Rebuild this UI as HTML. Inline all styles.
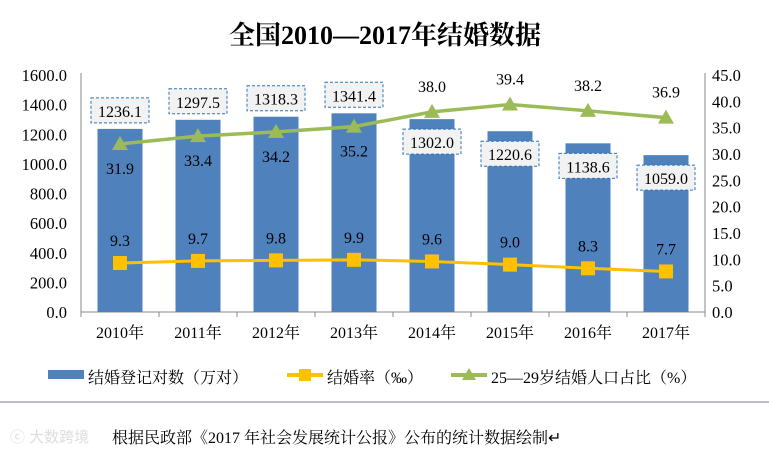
<!DOCTYPE html>
<html><head><meta charset="utf-8">
<style>
body{margin:0;background:#fff;}
svg{display:block;font-family:"Liberation Serif","Noto Serif CJK SC",serif;}
</style></head>
<body>
<svg id="chart" width="769" height="457" viewBox="0 0 769 457" xmlns="http://www.w3.org/2000/svg">
<text x="385" y="44" text-anchor="middle" font-size="26" font-weight="bold" fill="#000">全国2010—2017年结婚数据</text>
<g id="plot"></g>
<g>
<rect x="48" y="370" width="36" height="9" fill="#4f81bd"/>
<text x="88" y="383" font-size="16">结婚登记对数（万对）</text>
<line x1="287" y1="375" x2="323" y2="375" stroke="#ffc000" stroke-width="4"/>
<rect x="299" y="369" width="12" height="12" fill="#ffc000"/>
<text x="327" y="383" font-size="16">结婚率（‰）</text>
<line x1="451" y1="375" x2="487" y2="375" stroke="#9bbb59" stroke-width="4"/>
<polygon points="469,368 476,380 462,380" fill="#9bbb59"/>
<text x="491" y="383" font-size="16">25—29岁结婚人口占比（%）</text>
</g>
<line x1="0" y1="402" x2="769" y2="402" stroke="#aab" stroke-width="1.5"/>
<text x="10" y="442" font-size="15" fill="#ddd" font-family="Liberation Sans,Noto Sans CJK SC,sans-serif">ⓒ 大数跨境</text>
<text x="112" y="443" font-size="16" fill="#000">根据民政部《2017 年社会发展统计公报》公布的统计数据绘制↵</text>
</svg>
<script>
const years=["2010年","2011年","2012年","2013年","2014年","2015年","2016年","2017年"];
const couples=[1236.1,1297.5,1318.3,1341.4,1302.0,1220.6,1138.6,1059.0];
const rate=[9.3,9.7,9.8,9.9,9.6,9.0,8.3,7.7];
const share=[31.9,33.4,34.2,35.2,38.0,39.4,38.2,36.9];
const leftTicks=[0,200,400,600,800,1000,1200,1400,1600];
const rightTicks=[0,5,10,15,20,25,30,35,40,45];

const NS="http://www.w3.org/2000/svg";
const g=document.getElementById('plot');
const X0=81,X1=705,Y0=312,Y1=75;
const step=(X1-X0)/years.length;
const xc=i=>X0+step*(i+0.5);
const yL=v=>Y0-(v/1600)*(Y0-Y1);
const yR=v=>Y0-(v/45)*(Y0-Y1);
function mk(tag,attrs,text){const e=document.createElementNS(NS,tag);for(const k in attrs)e.setAttribute(k,attrs[k]);if(text!==undefined)e.textContent=text;g.appendChild(e);return e;}

leftTicks.forEach(v=>{const t=mk('text',{x:67,y:yL(v)+6,'text-anchor':'end','font-size':16.5},v.toFixed(1));

});
rightTicks.forEach(v=>{const t=mk('text',{x:712,y:yR(v)+6,'font-size':16.5},v.toFixed(1));

});
mk('line',{x1:X0,y1:Y1-2,x2:X0,y2:Y0,stroke:'#888'});
mk('line',{x1:X1,y1:Y1-2,x2:X1,y2:Y0,stroke:'#888'});
mk('line',{x1:X0,y1:Y0,x2:X1,y2:Y0,stroke:'#888'});
for(let i=0;i<=years.length;i++)mk('line',{x1:X0+step*i,y1:Y0,x2:X0+step*i,y2:Y0+5,stroke:'#888'});

couples.forEach((v,i)=>{
 const b=mk('rect',{x:xc(i)-22.5,y:yL(v),width:45,height:Y0-yL(v),fill:'#4f81bd'});
 
 
});
years.forEach((y,i)=>{const t=mk('text',{x:xc(i),y:Y0+26,'text-anchor':'middle','font-size':16},y);

});

mk('polyline',{points:rate.map((v,i)=>xc(i)+','+yR(v)).join(' '),fill:'none',stroke:'#ffc000','stroke-width':3});
mk('polyline',{points:share.map((v,i)=>xc(i)+','+yR(v)).join(' '),fill:'none',stroke:'#9bbb59','stroke-width':3.5});
rate.forEach((v,i)=>{const y=yR(v);
 const m=mk('rect',{x:xc(i)-7,y:y-7,width:14,height:14,fill:'#ffc000'});
 
 
 mk('text',{x:xc(i),y:y-17,'text-anchor':'middle','font-size':16},v.toFixed(1));
});
share.forEach((v,i)=>{const y=yR(v);
 const m=mk('polygon',{points:`${xc(i)},${y-8} ${xc(i)+8},${y+6} ${xc(i)-8},${y+6}`,fill:'#9bbb59'});
 
 
 const ly=i<4?y+30:y-20;
 mk('text',{x:xc(i),y:ly,'text-anchor':'middle','font-size':16},v.toFixed(1));
});
couples.forEach((v,i)=>{const y=yL(v);
 const by=i<4?y-31:y+10;
 const r=mk('rect',{x:xc(i)-29,y:by,width:58,height:25,fill:'#f2f2f2',stroke:'#2e75b6','stroke-dasharray':'3,2'});
 
 
 mk('text',{x:xc(i),y:by+19,'text-anchor':'middle','font-size':16},v.toFixed(1));
});
</script>
</body></html>
